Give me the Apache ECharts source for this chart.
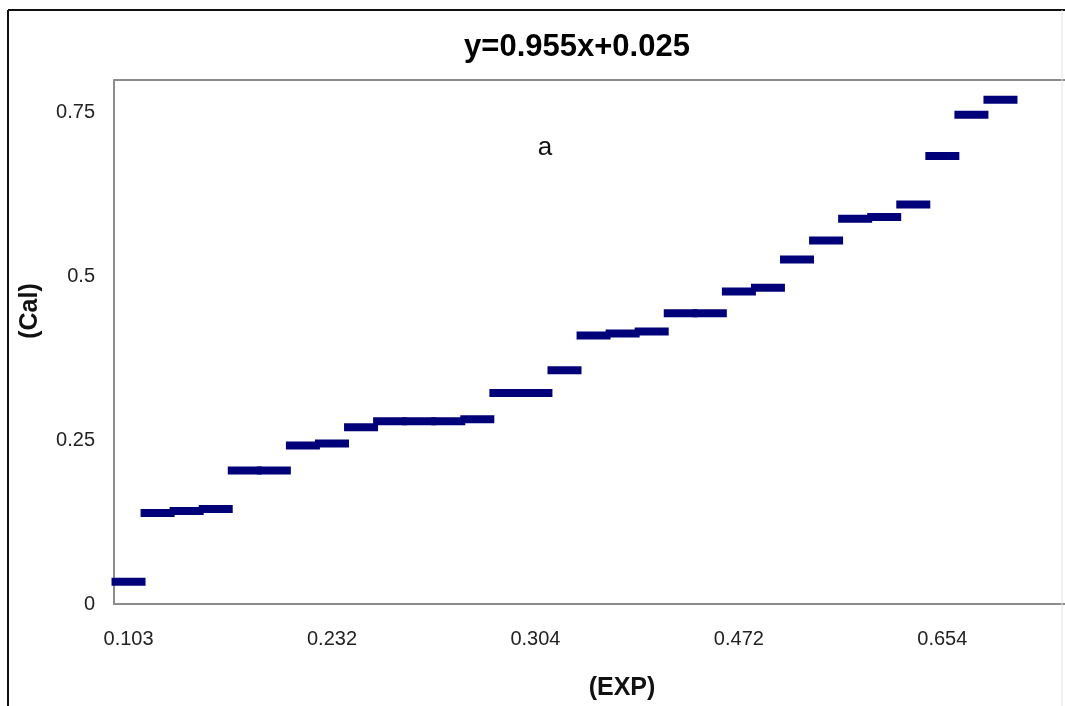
<!DOCTYPE html>
<html>
<head>
<meta charset="utf-8">
<script src="https://cdn.jsdelivr.net/npm/echarts@6/dist/echarts.min.js"></script>
<style>
html,body{margin:0;padding:0;background:#fff;}
#chart{width:1065px;height:706px;}
</style>
</head>
<body>
<div id="chart"></div>
<script>
// EXP values (category axis; only every 7th label is displayed)
const expCategories = ['0.103','0.125','0.141','0.152','0.186','0.198','0.215',
  '0.232','0.245','0.258','0.266','0.271','0.279','0.288',
  '0.304','0.338','0.381','0.394','0.402','0.429','0.441',
  '0.472','0.483','0.521','0.548','0.577','0.592','0.618',
  '0.654','0.710','0.752'];
// Calculated values
const calValues = [0.034,0.139,0.142,0.145,0.204,0.204,0.242,
  0.245,0.270,0.279,0.279,0.279,0.282,0.322,
  0.322,0.357,0.410,0.413,0.416,0.444,0.444,
  0.477,0.483,0.526,0.555,0.588,0.591,0.610,
  0.684,0.747,0.770];
const yTicks = [0, 0.25, 0.5, 0.75];
const titleText = 'y=0.955x+0.025';

const chart = echarts.init(document.getElementById('chart'));
const font = 'Liberation Sans, Arial, sans-serif';
chart.setOption({
  backgroundColor: '#fff',
  animation: false,
  title: {
    text: titleText, left: 572, top: 27, textAlign: 'center',
    textStyle: {fontFamily: font, fontSize: 31, fontWeight: 'bold', color: '#000'}
  },
  grid: {left: 114, top: 80, width: 901, height: 524},
  xAxis: {
    type: 'category', data: expCategories, boundaryGap: true,
    axisLine: {show: true, lineStyle: {color: '#8c8c8c', width: 2}},
    axisTick: {show: false},
    axisLabel: {interval: 6, margin: 25, fontFamily: font, fontSize: 20, color: '#222'},
    splitLine: {show: false}
  },
  yAxis: {
    type: 'value', min: 0, max: 0.8, interval: 0.25,
    axisLine: {show: true, lineStyle: {color: '#8c8c8c', width: 2}},
    axisTick: {show: false},
    axisLabel: {showMaxLabel: false, margin: 19, fontFamily: font, fontSize: 20, color: '#222',
      formatter: v => yTicks.indexOf(v) >= 0 ? String(v) : ''},
    splitLine: {show: false}
  },
  series: [{
    type: 'scatter', data: calValues,
    symbol: 'rect', symbolSize: [34, 8],
    itemStyle: {color: '#000078', opacity: 1}
  }],
  graphic: [
    {type: 'line', shape: {x1: 114, y1: 80, x2: 1065, y2: 80}, style: {stroke: '#8c8c8c', lineWidth: 2}, silent: true},
    {type: 'line', shape: {x1: 1014, y1: 604, x2: 1065, y2: 604}, style: {stroke: '#8c8c8c', lineWidth: 2}, silent: true},
    {type: 'line', shape: {x1: 8, y1: 10, x2: 1065, y2: 10}, style: {stroke: '#111', lineWidth: 2}, silent: true},
    {type: 'line', shape: {x1: 8, y1: 10, x2: 8, y2: 706}, style: {stroke: '#111', lineWidth: 2}, silent: true},
    {type: 'line', shape: {x1: 1062, y1: 10, x2: 1062, y2: 706}, style: {stroke: '#e4e4e4', lineWidth: 1}, silent: true},
    {type: 'text', x: 545, y: 148, style: {text: 'a', fontFamily: font, fontSize: 26, fill: '#111', textAlign: 'center', textVerticalAlign: 'middle'}},
    {type: 'text', x: 622, y: 688, style: {text: '(EXP)', fontFamily: font, fontSize: 25, fontWeight: 'bold', fill: '#111', textAlign: 'center', textVerticalAlign: 'middle'}},
    {type: 'text', x: 30, y: 311, rotation: Math.PI / 2, style: {text: '(Cal)', fontFamily: font, fontSize: 25, fontWeight: 'bold', fill: '#111', textAlign: 'center', textVerticalAlign: 'middle'}}
  ]
});
</script>
</body>
</html>
